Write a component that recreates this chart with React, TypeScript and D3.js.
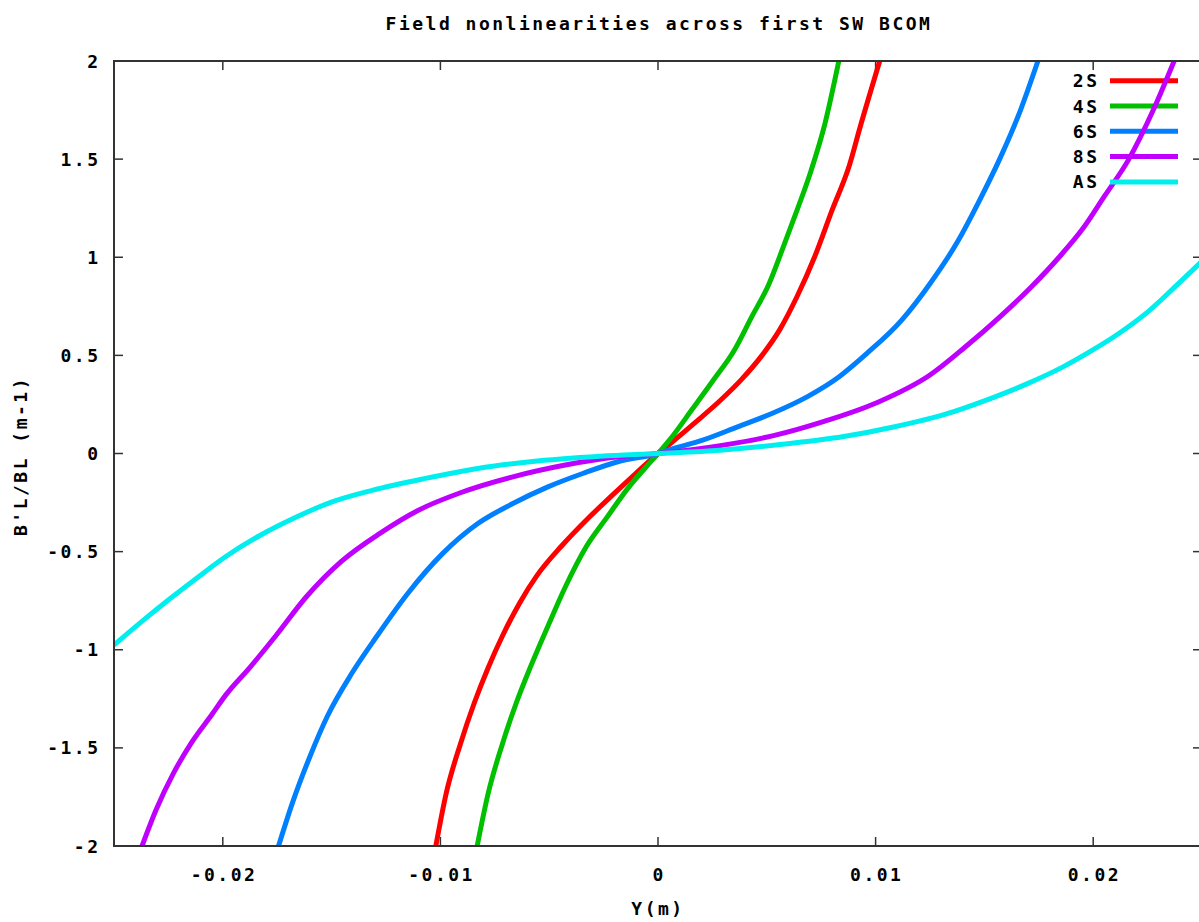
import React from "react";
import * as d3 from "d3";

const title = "Field nonlinearities across first SW BCOM";
const xLabel = "Y(m)";
const yLabel = "B'L/BL (m-1)";

const xTicks = [-0.02, -0.01, 0, 0.01, 0.02];
const yTicks = [-2, -1.5, -1, -0.5, 0, 0.5, 1, 1.5, 2];
const xTickLabels = ["-0.02", "-0.01", "0", "0.01", "0.02"];
const yTickLabels = ["-2", "-1.5", "-1", "-0.5", "0", "0.5", "1", "1.5", "2"];

const seriesNames = ["2S", "4S", "6S", "8S", "AS"];
const seriesColors = ["#ff0000", "#00c000", "#0080ff", "#c000ff", "#00eeee"];

const s2S: [number, number][] = [
  [-0.01021, -2.0], [-0.00973, -1.73], [-0.00908, -1.48], [-0.00844, -1.27], [-0.0078, -1.09],
  [-0.00715, -0.93], [-0.00635, -0.76], [-0.00555, -0.62], [-0.00442, -0.47], [-0.0033, -0.34],
  [-0.00217, -0.22], [-0.00105, -0.105], [0, 0], [0.00061, 0.055], [0.00173, 0.16], [0.00286, 0.27],
  [0.00382, 0.375], [0.00478, 0.5], [0.00559, 0.63], [0.00639, 0.8], [0.00719, 1.0], [0.008, 1.24],
  [0.0088, 1.47], [0.00928, 1.66], [0.01019, 2.0],
];
const s4S: [number, number][] = [
  [-0.00831, -2.0], [-0.0078, -1.73], [-0.00715, -1.48], [-0.00651, -1.27], [-0.00587, -1.09],
  [-0.00506, -0.88], [-0.00426, -0.68], [-0.0033, -0.475], [-0.00233, -0.323], [-0.00137, -0.175],
  [-0.00056, -0.07], [0, 0], [0.00061, 0.08], [0.00157, 0.225], [0.00254, 0.373], [0.0035, 0.525],
  [0.0043, 0.695], [0.0051, 0.864], [0.00575, 1.05], [0.00639, 1.24], [0.00703, 1.44], [0.00767, 1.68],
  [0.00831, 2.0],
];
const s6S: [number, number][] = [
  [-0.01744, -2.0], [-0.0168, -1.78], [-0.016, -1.545], [-0.0152, -1.34], [-0.01407, -1.12],
  [-0.01294, -0.934], [-0.0115, -0.713], [-0.00989, -0.509], [-0.00828, -0.357], [-0.00667, -0.255],
  [-0.00506, -0.17], [-0.00346, -0.102], [-0.00185, -0.042], [0, 0], [0.00061, 0.022], [0.00205, 0.068],
  [0.00366, 0.136], [0.00526, 0.205], [0.00687, 0.29], [0.00831, 0.39], [0.0096, 0.51], [0.0112, 0.68],
  [0.01249, 0.864], [0.01377, 1.08], [0.01473, 1.28], [0.0157, 1.5], [0.01666, 1.75], [0.01746, 2.0],
];
const s8S: [number, number][] = [
  [-0.02371, -2.0], [-0.02307, -1.817], [-0.02227, -1.63], [-0.02146, -1.477], [-0.0205, -1.33],
  [-0.01986, -1.23], [-0.01873, -1.087], [-0.0176, -0.934], [-0.01616, -0.73], [-0.01455, -0.55],
  [-0.01278, -0.407], [-0.01101, -0.289], [-0.00908, -0.2], [-0.00667, -0.119], [-0.00426, -0.059],
  [-0.00185, -0.017], [0, 0], [0.00286, 0.04], [0.00526, 0.09], [0.00767, 0.165], [0.01008, 0.26],
  [0.0125, 0.4], [0.01409, 0.54], [0.0157, 0.695], [0.01714, 0.847], [0.01843, 1.0], [0.01955, 1.15],
  [0.02051, 1.31], [0.02164, 1.5], [0.02276, 1.75], [0.02372, 2.0],
];
const sAS: [number, number][] = [
  [-0.025, -0.976], [-0.02355, -0.84], [-0.02243, -0.74], [-0.02114, -0.63], [-0.01986, -0.525],
  [-0.01825, -0.415], [-0.01664, -0.325], [-0.01519, -0.255], [-0.0131, -0.187], [-0.01069, -0.127],
  [-0.00828, -0.076], [-0.00587, -0.042], [-0.00265, -0.014], [0, 0], [0.00286, 0.017], [0.00607, 0.051],
  [0.00847, 0.085], [0.01088, 0.136], [0.01329, 0.203], [0.01506, 0.271], [0.01698, 0.356],
  [0.01859, 0.44], [0.01987, 0.52], [0.02116, 0.61], [0.02244, 0.715], [0.02372, 0.845], [0.025, 0.98],
];
const seriesData = [s2S, s4S, s6S, s8S, sAS];

const W = 1199;
const H = 922;
const left = 114;
const right = 1202;
const top = 61;
const bottom = 846;

const fontStyle = {
  fontFamily: "'DejaVu Sans Mono', monospace",
  fontWeight: 700,
  fontSize: 18,
  letterSpacing: 2.5,
} as const;

export default function App() {
  const x = d3.scaleLinear().domain([-0.025, 0.025]).range([left, right]);
  const y = d3.scaleLinear().domain([-2, 2]).range([bottom, top]);
  const line = d3
    .line<[number, number]>()
    .x((d) => x(d[0]))
    .y((d) => y(d[1]))
    .curve(d3.curveMonotoneX);
  const tickLen = 9;
  const axisColor = "#333";

  return (
    <div style={{ position: "fixed", left: 0, top: 0 }}>
      <svg width={W} height={H} style={{ display: "block", background: "#fff" }}>
        <defs>
          <clipPath id="plotClip">
            <rect x={left} y={top} width={right - left} height={bottom - top} />
          </clipPath>
        </defs>
        <rect x={0} y={0} width={W} height={H} fill="#fff" />
        {xTicks.map((t, i) => (
          <g key={"xt" + i}>
            <line x1={x(t)} x2={x(t)} y1={bottom} y2={bottom - tickLen} stroke={axisColor} strokeWidth={1.5} />
            <line x1={x(t)} x2={x(t)} y1={top} y2={top + tickLen} stroke={axisColor} strokeWidth={1.5} />
            <text x={x(t) + 1.2} y={874} textAnchor="middle" dominantBaseline="central" style={fontStyle} fill="#000">
              {xTickLabels[i]}
            </text>
          </g>
        ))}
        {yTicks.map((t, i) => (
          <g key={"yt" + i}>
            <line x1={left} x2={left + tickLen} y1={y(t)} y2={y(t)} stroke={axisColor} strokeWidth={1.5} />
            <line x1={right} x2={right - tickLen} y1={y(t)} y2={y(t)} stroke={axisColor} strokeWidth={1.5} />
            <text x={100.5} y={y(t)} textAnchor="end" dominantBaseline="central" style={fontStyle} fill="#000">
              {yTickLabels[i]}
            </text>
          </g>
        ))}
        {seriesData.map((data, i) => {
          const ly = 80.7 + i * 25.3;
          return (
            <g key={"s" + i}>
              <text x={1099.5} y={ly} textAnchor="end" dominantBaseline="central" style={fontStyle} fill="#000">
                {seriesNames[i]}
              </text>
              <line x1={1110} x2={1178} y1={ly} y2={ly} stroke={seriesColors[i]} strokeWidth={5} />
              <path
                d={line(data) || ""}
                fill="none"
                stroke={seriesColors[i]}
                strokeWidth={5}
                strokeLinejoin="round"
                clipPath="url(#plotClip)"
              />
            </g>
          );
        })}
        <rect x={left} y={top} width={right - left} height={bottom - top} fill="none" stroke={axisColor} strokeWidth={2} />
        <text x={659} y={23} textAnchor="middle" dominantBaseline="central" style={fontStyle} fill="#000">
          {title}
        </text>
        <text x={658} y={908} textAnchor="middle" dominantBaseline="central" style={fontStyle} fill="#000">
          {xLabel}
        </text>
        <text
          x={20}
          y={456}
          textAnchor="middle"
          dominantBaseline="central"
          transform="rotate(-90 20 456)"
          style={fontStyle}
          fill="#000"
        >
          {yLabel}
        </text>
      </svg>
    </div>
  );
}
